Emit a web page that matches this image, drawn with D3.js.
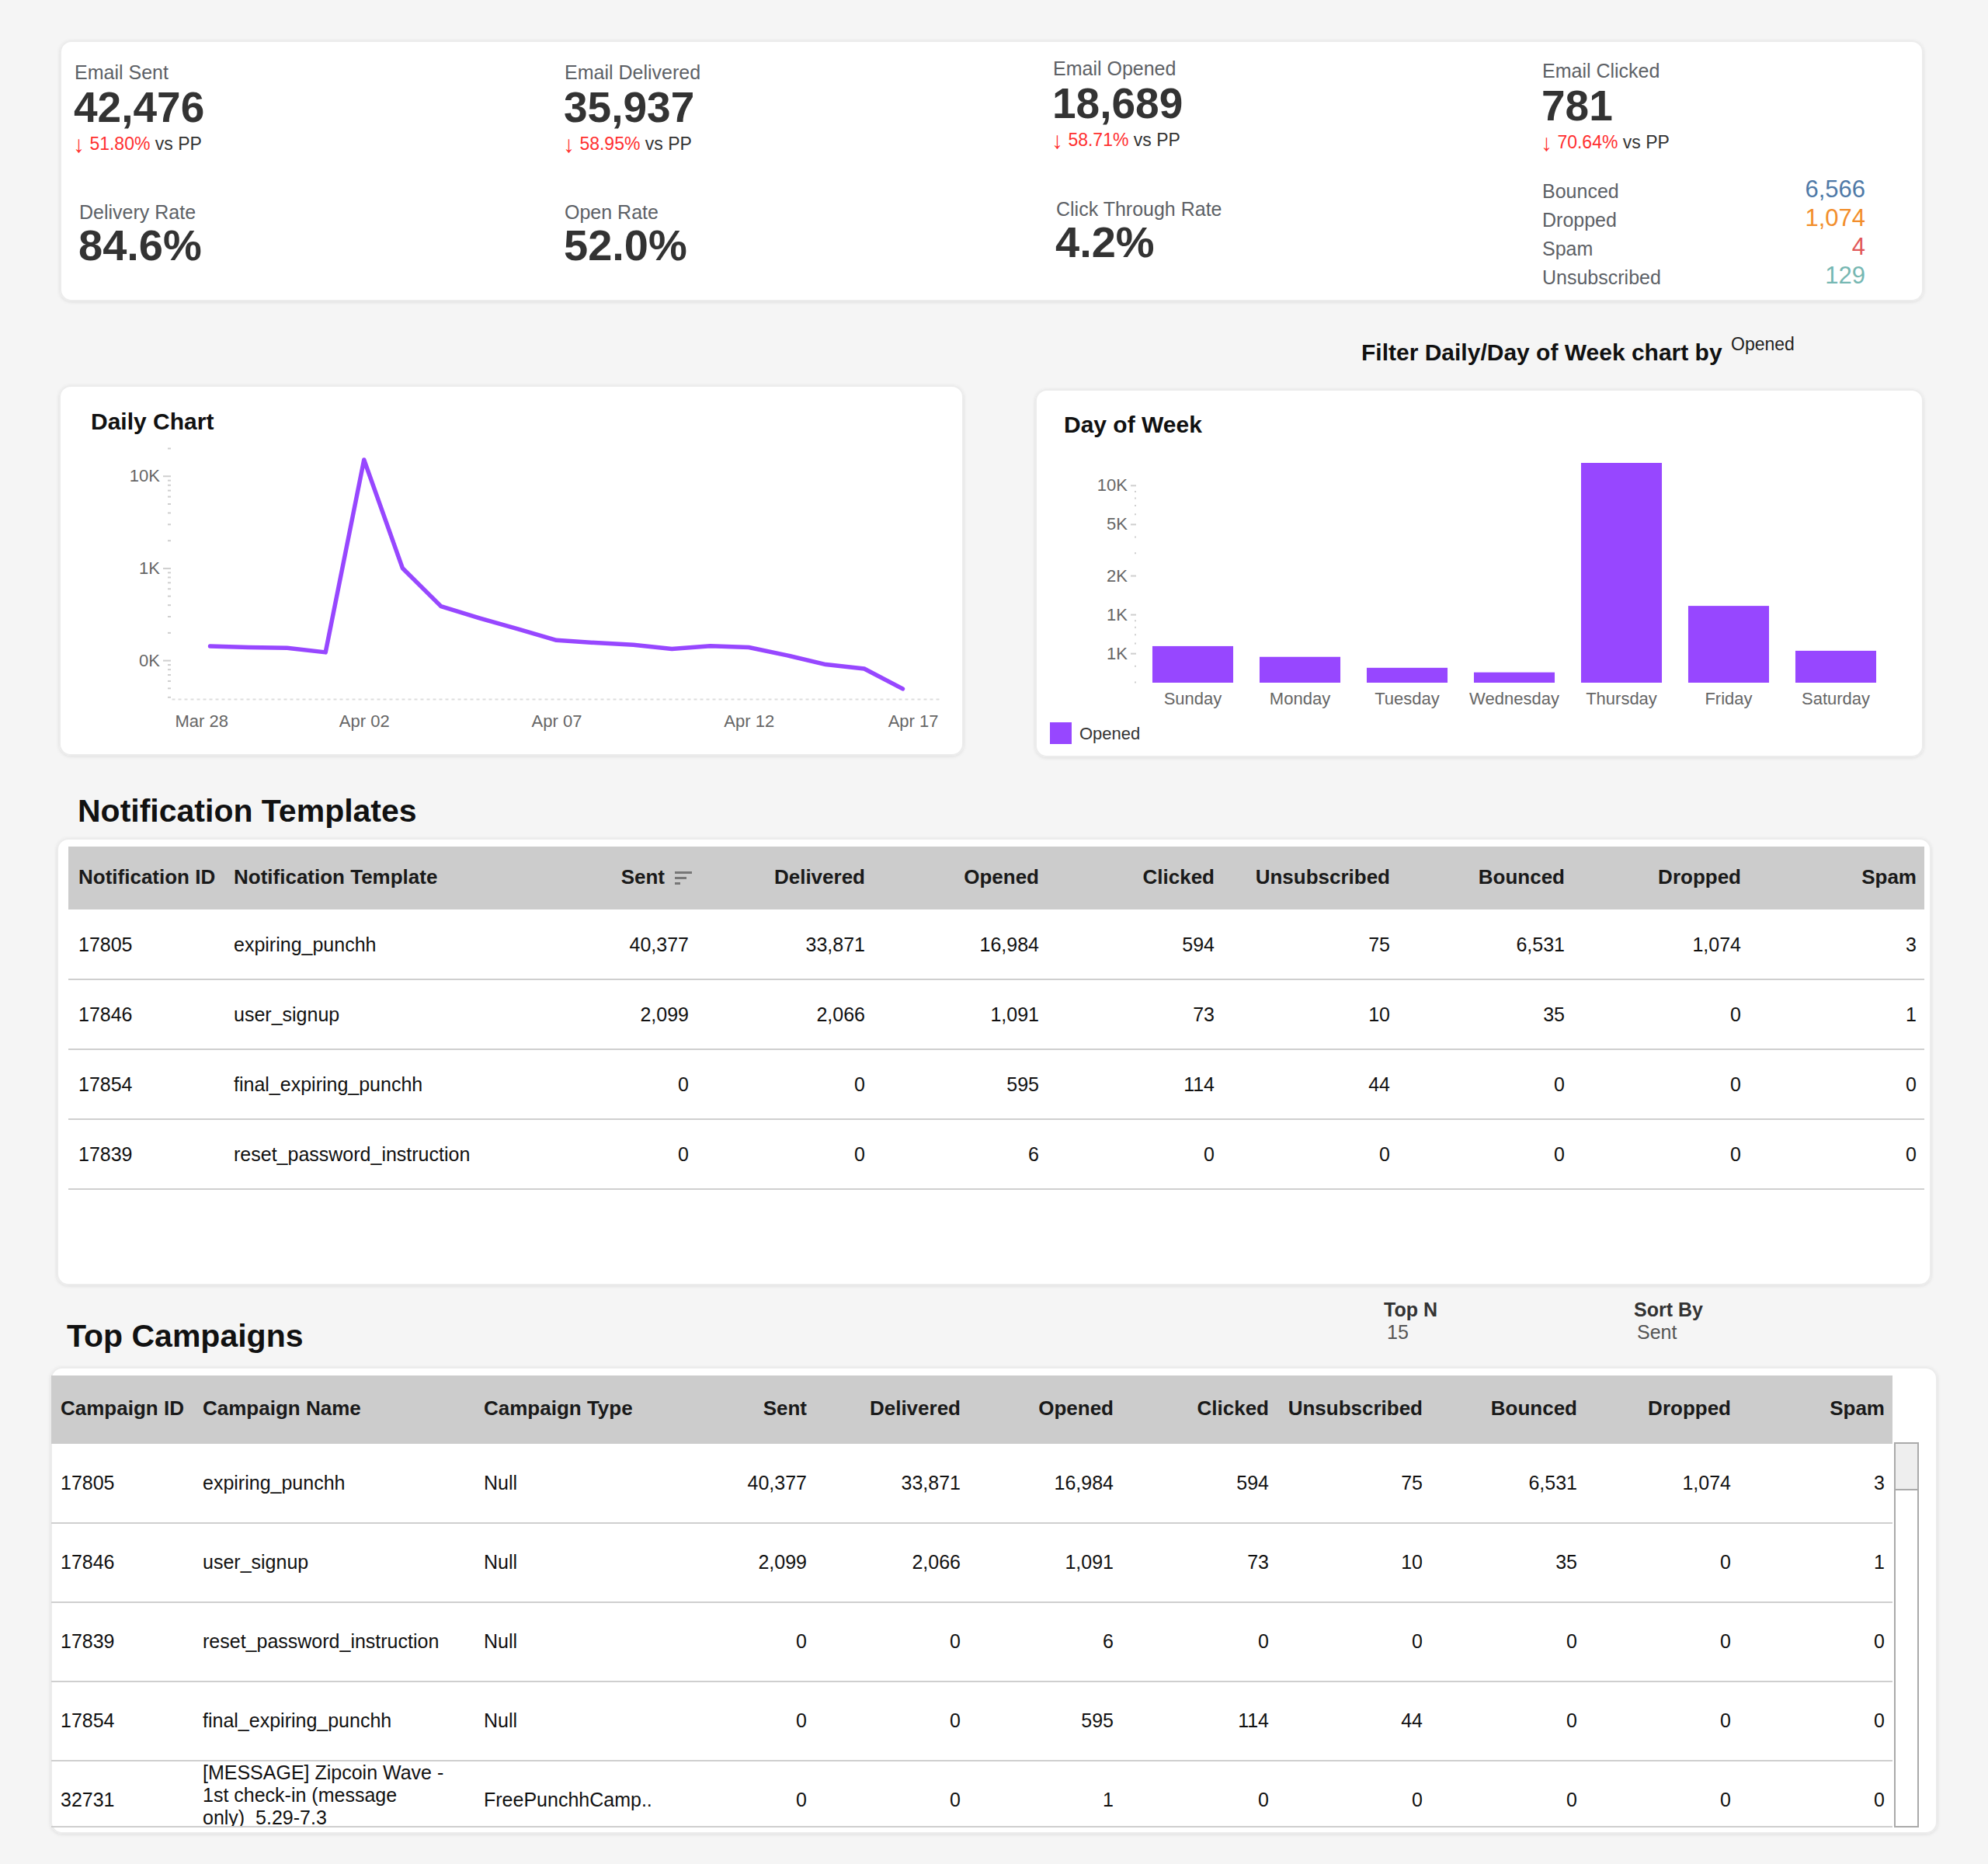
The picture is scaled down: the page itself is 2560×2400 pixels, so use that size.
<!DOCTYPE html>
<html>
<head>
<meta charset="utf-8">
<script src="https://cdn.jsdelivr.net/npm/d3@7"></script>
<style>
  html, body { margin: 0; padding: 0; background: #f5f5f5; }
  svg { display: block; font-family: "Liberation Sans", Arial, Helvetica, sans-serif; }
</style>
</head>
<body>
<svg id="dash" width="2560" height="2400"></svg>
<script>
// ---- datos del panel ----
const kpiLabels = ["Email Sent", "Email Delivered", "Email Opened", "Email Clicked"];
const kpiValues = [42476, 35937, 18689, 781];
const kpiChange = [51.80, 58.95, 58.71, 70.64];

const rateLabels = ["Delivery Rate", "Open Rate", "Click Through Rate"];
const rateValues = [84.6, 52.0, 4.2];

const issueLabels = ["Bounced", "Dropped", "Spam", "Unsubscribed"];
const issueValues = [6566, 1074, 4, 129];

// grafico diario (aperturas por dia, escala log)
const dailyDates = ["2020-03-29", "2020-03-30", "2020-03-31", "2020-04-01", "2020-04-02",
  "2020-04-03", "2020-04-04", "2020-04-05", "2020-04-06", "2020-04-07", "2020-04-08",
  "2020-04-09", "2020-04-10", "2020-04-11", "2020-04-12", "2020-04-13", "2020-04-14",
  "2020-04-15", "2020-04-16"];
const dailyOpened = [142, 138, 136, 122, 14960, 1000, 385, 287, 218, 165, 155,
  147, 133, 143, 138, 113, 90, 81, 49];
const dailyTicks = ["2020-03-28", "2020-04-02", "2020-04-07", "2020-04-12", "2020-04-17"];

// dia de la semana
const dowDays = ["Sunday", "Monday", "Tuesday", "Wednesday", "Thursday", "Friday", "Saturday"];
const dowOpened = [568, 469, 386, 356, 14900, 1164, 523];
const dowTicks = [500, 1000, 2000, 5000, 10000];

// tabla de plantillas
const ntColumns = ["Notification ID", "Notification Template", "Sent", "Delivered", "Opened",
  "Clicked", "Unsubscribed", "Bounced", "Dropped", "Spam"];
const ntIds = ["17805", "17846", "17854", "17839"];
const ntNames = ["expiring_punchh", "user_signup", "final_expiring_punchh", "reset_password_instruction"];
const ntStats = [
  [40377, 33871, 16984, 594, 75, 6531, 1074, 3],
  [2099, 2066, 1091, 73, 10, 35, 0, 1],
  [0, 0, 595, 114, 44, 0, 0, 0],
  [0, 0, 6, 0, 0, 0, 0, 0]
];

// tabla de campañas (los saltos de linea "\n" son los de la celda original)
const cpColumns = ["Campaign ID", "Campaign Name", "Campaign Type", "Sent", "Delivered", "Opened",
  "Clicked", "Unsubscribed", "Bounced", "Dropped", "Spam"];
const cpIds = ["17805", "17846", "17839", "17854", "32731"];
const cpNames = ["expiring_punchh", "user_signup", "reset_password_instruction", "final_expiring_punchh",
  "[MESSAGE] Zipcoin Wave -\n1st check-in (message\nonly)  5.29-7.3"];
const cpTypes = ["Null", "Null", "Null", "Null", "FreePunchhCamp.."];
const cpStats = [
  [40377, 33871, 16984, 594, 75, 6531, 1074, 3],
  [2099, 2066, 1091, 73, 10, 35, 0, 1],
  [0, 0, 6, 0, 0, 0, 0, 0],
  [0, 0, 595, 114, 44, 0, 0, 0],
  [0, 0, 1, 0, 0, 0, 0, 0]
];
const topN = 15;
const sortBy = "Sent";

// ---- estilos ----
const PURPLE = "#9747ff";
const issueColors = ["#4e79a7", "#f28e2b", "#e15759", "#76b7b2"];
const fmt = d3.format(",");
const fmtK = v => (v / 1000).toFixed(0) + "K";

const svg = d3.select("#dash");

// sombra suave de las tarjetas
const defs = svg.append("defs");
defs.append("filter").attr("id", "shadow").attr("x", "-2%").attr("y", "-2%")
  .attr("width", "104%").attr("height", "104%")
  .append("feDropShadow").attr("dx", 0).attr("dy", 1).attr("stdDeviation", 2)
  .attr("flood-color", "#000").attr("flood-opacity", 0.10);

function card(x, y, w, h) {
  svg.append("rect").attr("x", x).attr("y", y).attr("width", w).attr("height", h)
    .attr("rx", 14).attr("fill", "#fff").attr("stroke", "#ececec").attr("stroke-width", 2)
    .attr("filter", "url(#shadow)");
}

function txt(g, x, y, s, size, opts = {}) {
  return g.append("text").attr("x", x).attr("y", y).text(s)
    .attr("font-size", size + "px")
    .attr("font-weight", opts.bold ? "bold" : "normal")
    .attr("fill", opts.fill || "#222")
    .attr("text-anchor", opts.anchor || "start");
}

// ---- tarjeta KPI ----
card(78, 53, 2398, 334);
const kpiPos = [[96, 102], [727, 102], [1356, 97], [1986, 100]];
kpiLabels.forEach((lab, i) => {
  const [x, y] = kpiPos[i];
  txt(svg, x, y, lab, 25, { fill: "#5d6166" });
  txt(svg, x - 1, y + 55, fmt(kpiValues[i]), 55, { bold: true, fill: "#333" });
  const t = svg.append("text").attr("x", x - 2).attr("y", y + 91).attr("font-size", "23px")
    .attr("xml:space", "preserve");
  t.append("tspan").attr("fill", "#ff2f2f").attr("font-size", "30px").attr("dy", 3).text("\u2193");
  t.append("tspan").attr("fill", "#ff2f2f").attr("dy", -3).text(" " + kpiChange[i].toFixed(2) + "%");
  t.append("tspan").attr("fill", "#333").text(" vs PP");
});

const ratePos = [[102, 282], [727, 282], [1360, 278]];
rateLabels.forEach((lab, i) => {
  const [x, y] = ratePos[i];
  txt(svg, x, y, lab, 25, { fill: "#5d6166" });
  txt(svg, x - 1, y + 53, rateValues[i].toFixed(1) + "%", 56, { bold: true, fill: "#333" });
});

issueLabels.forEach((lab, i) => {
  const y = 255 + i * 37;
  txt(svg, 1986, y, lab, 25, { fill: "#5d6166" });
  txt(svg, 2402, y - 1, fmt(issueValues[i]), 31, { fill: issueColors[i], anchor: "end" });
});

// filtro
txt(svg, 1753, 464, "Filter Daily/Day of Week chart by", 30, { bold: true, fill: "#111" });
txt(svg, 2229, 451, "Opened", 23, { fill: "#222" });

// ---- grafico diario ----
card(77, 497, 1163, 475);
txt(svg, 117, 553, "Daily Chart", 30, { bold: true, fill: "#111" });

const parseDay = d3.timeParse("%Y-%m-%d");
const dailyData = dailyDates.map((d, i) => ({ date: parseDay(d), value: dailyOpened[i] }));
const xDaily = d3.scaleTime()
  .domain([parseDay(dailyTicks[0]), parseDay(dailyTicks[dailyTicks.length - 1])])
  .range([221, 1212]);
const yDaily = d3.scaleLog().domain([38, 20000]).range([900, 577]);
const dailyMajor = [100, 1000, 10000];

// ticks menores de la escala log
svg.append("g").attr("transform", "translate(220,0)")
  .call(d3.axisLeft(yDaily).tickValues(yDaily.ticks().filter(v => !dailyMajor.includes(v)))
    .tickSize(4).tickFormat(""))
  .call(g => g.select(".domain").remove())
  .call(g => g.selectAll("line").attr("stroke", "#cfcfcf").attr("stroke-width", 2));

svg.append("g").attr("transform", "translate(220,0)")
  .call(d3.axisLeft(yDaily).tickValues(dailyMajor).tickSize(10).tickPadding(4).tickFormat(fmtK))
  .call(g => g.select(".domain").remove())
  .call(g => g.selectAll("line").attr("stroke", "#cfcfcf").attr("stroke-width", 2))
  .call(g => g.selectAll("text").attr("font-size", "22px").attr("fill", "#666")
    .attr("font-family", "Liberation Sans, Arial, sans-serif"));

const xAxisDaily = svg.append("g").attr("transform", "translate(0,900)")
  .call(d3.axisBottom(xDaily).tickValues(dailyTicks.map(parseDay))
    .tickFormat(d3.timeFormat("%b %d")).tickSize(0).tickPadding(20))
  .call(g => g.select(".domain").attr("stroke", "#dedede").attr("stroke-width", 2)
    .attr("stroke-dasharray", "4,4"))
  .call(g => g.selectAll("text").attr("font-size", "22px").attr("fill", "#666")
    .attr("font-family", "Liberation Sans, Arial, sans-serif"));
// etiquetas de los extremos pegadas al borde
const dLabels = xAxisDaily.selectAll(".tick text");
dLabels.filter((d, i) => i === 0).attr("text-anchor", "start").attr("dx", 4);
dLabels.filter((d, i, n) => i === n.length - 1).attr("text-anchor", "end").attr("dx", -4);

svg.append("path").datum(dailyData)
  .attr("fill", "none").attr("stroke", PURPLE).attr("stroke-width", 5.5)
  .attr("stroke-linejoin", "round").attr("stroke-linecap", "round")
  .attr("d", d3.line().x(d => xDaily(d.date)).y(d => yDaily(d.value)));

// ---- dia de la semana ----
card(1334, 502, 1142, 472);
txt(svg, 1370, 557, "Day of Week", 30, { bold: true, fill: "#111" });

const xDow = d3.scaleBand().domain(dowDays).range([1463, 2437])
  .paddingInner(0.246).paddingOuter(0.152);
const yDow = d3.scaleLog().domain([296, 14900]).range([879, 596]);

svg.append("g").attr("transform", "translate(1463,0)")
  .call(d3.axisLeft(yDow).tickValues(yDow.ticks().filter(v => !dowTicks.includes(v)))
    .tickSize(2).tickFormat(""))
  .call(g => g.select(".domain").remove())
  .call(g => g.selectAll("line").attr("stroke", "#cfcfcf").attr("stroke-width", 2));

svg.append("g").attr("transform", "translate(1463,0)")
  .call(d3.axisLeft(yDow).tickValues(dowTicks).tickSize(7).tickPadding(4).tickFormat(fmtK))
  .call(g => g.select(".domain").remove())
  .call(g => g.selectAll("line").attr("stroke", "#cfcfcf").attr("stroke-width", 2))
  .call(g => g.selectAll("text").attr("font-size", "22px").attr("fill", "#666")
    .attr("font-family", "Liberation Sans, Arial, sans-serif"));

svg.selectAll(".dowBar").data(dowDays).join("rect").attr("class", "dowBar")
  .attr("x", d => xDow(d)).attr("width", xDow.bandwidth())
  .attr("y", (d, i) => yDow(dowOpened[i]))
  .attr("height", (d, i) => yDow.range()[0] - yDow(dowOpened[i]))
  .attr("fill", PURPLE);

svg.append("g").attr("transform", "translate(0,879)")
  .call(d3.axisBottom(xDow).tickSize(0).tickPadding(12))
  .call(g => g.select(".domain").remove())
  .call(g => g.selectAll("text").attr("font-size", "22px").attr("fill", "#666")
    .attr("font-family", "Liberation Sans, Arial, sans-serif"));

// leyenda
svg.append("rect").attr("x", 1352).attr("y", 930).attr("width", 28).attr("height", 28).attr("fill", PURPLE);
txt(svg, 1390, 952, "Opened", 22, { fill: "#333" });

// ---- tablas ----
function drawTable(cfg) {
  const g = svg.append("g");
  g.append("rect").attr("x", cfg.x0).attr("y", cfg.headTop).attr("width", cfg.x1 - cfg.x0)
    .attr("height", cfg.headBottom - cfg.headTop).attr("fill", "#cccccc");
  cfg.columns.forEach((c, j) => {
    const hx = cfg.headX && cfg.headX[j] != null ? cfg.headX[j] : cfg.colX[j];
    txt(g, hx, cfg.headBase, c, 26, { bold: true, fill: "#1a1a1a", anchor: cfg.anchors[j] });
  });

  const rowY = d3.scaleBand().domain(d3.range(cfg.rows.length))
    .range([cfg.headBottom, cfg.headBottom + cfg.rows.length * cfg.rowH]);

  const body = g.append("g");
  if (cfg.clipBottom) {
    defs.append("clipPath").attr("id", cfg.id + "clip").append("rect")
      .attr("x", cfg.x0).attr("y", cfg.headBottom)
      .attr("width", cfg.x1 - cfg.x0).attr("height", cfg.clipBottom - cfg.headBottom);
    body.attr("clip-path", `url(#${cfg.id}clip)`);
  }

  cfg.rows.forEach((row, i) => {
    const base = rowY(i) + cfg.baseOff;
    row.forEach((cell, j) => {
      const t = txt(body, cfg.colX[j], base, cell, 25, { fill: "#111", anchor: cfg.anchors[j] });
      if (cell.includes("\n")) multiline(t, cell.split("\n"), base);
    });
    body.append("line").attr("x1", cfg.x0).attr("x2", cfg.x1)
      .attr("y1", rowY(i) + cfg.rowH).attr("y2", rowY(i) + cfg.rowH)
      .attr("stroke", "#cfcfcf").attr("stroke-width", 2);
  });
  return g;
}

// celda de varias lineas centrada en la fila
function multiline(t, lines, base) {
  const lh = 29;
  t.text(null).attr("xml:space", "preserve");
  lines.forEach((l, k) => {
    t.append("tspan").attr("x", t.attr("x"))
      .attr("y", base - 6 + (k - (lines.length - 1) / 2) * lh)
      .text(l);
  });
}

// plantillas de notificacion
txt(svg, 100, 1058, "Notification Templates", 41, { bold: true, fill: "#111" });
card(74, 1080, 2412, 574);
drawTable({
  id: "nt",
  x0: 88, x1: 2478, headTop: 1090, headBottom: 1171, headBase: 1138,
  rowH: 90, baseOff: 54,
  columns: ntColumns,
  colX: [101, 301, 887, 1114, 1338, 1564, 1790, 2015, 2242, 2468],
  headX: [null, null, 856],
  anchors: ["start", "start", "end", "end", "end", "end", "end", "end", "end", "end"],
  rows: ntIds.map((id, i) => [id, ntNames[i]].concat(ntStats[i].map(fmt)))
});
// icono de orden junto a "Sent"
[22, 15, 7].forEach((w, k) => {
  svg.append("rect").attr("x", 869).attr("y", 1122 + k * 7).attr("width", w).attr("height", 3)
    .attr("fill", "#777");
});

// campañas
txt(svg, 86, 1734, "Top Campaigns", 41, { bold: true, fill: "#111" });
txt(svg, 1782, 1695, "Top N", 25, { bold: true, fill: "#333" });
txt(svg, 1786, 1724, String(topN), 25, { fill: "#555" });
txt(svg, 2104, 1695, "Sort By", 25, { bold: true, fill: "#333" });
txt(svg, 2108, 1724, sortBy, 25, { fill: "#555" });

card(66, 1761, 2428, 599);
drawTable({
  id: "cp",
  x0: 66, x1: 2437, headTop: 1771, headBottom: 1859, headBase: 1822,
  rowH: 102, baseOff: 59, clipBottom: 2353,
  columns: cpColumns,
  colX: [78, 261, 623, 1039, 1237, 1434, 1634, 1832, 2031, 2229, 2427],
  anchors: ["start", "start", "start", "end", "end", "end", "end", "end", "end", "end", "end"],
  rows: cpIds.map((id, i) => [id, cpNames[i], cpTypes[i]].concat(cpStats[i].map(fmt)))
});
svg.append("line").attr("x1", 66).attr("x2", 2437).attr("y1", 2352).attr("y2", 2352)
  .attr("stroke", "#cfcfcf").attr("stroke-width", 2);

// barra de desplazamiento
svg.append("rect").attr("x", 2440).attr("y", 1858).attr("width", 30).attr("height", 494)
  .attr("fill", "#fff").attr("stroke", "#aaa").attr("stroke-width", 2);
svg.append("rect").attr("x", 2440).attr("y", 1858).attr("width", 30).attr("height", 60)
  .attr("fill", "#eeeeee").attr("stroke", "#aaa").attr("stroke-width", 2);
</script>
</body>
</html>
